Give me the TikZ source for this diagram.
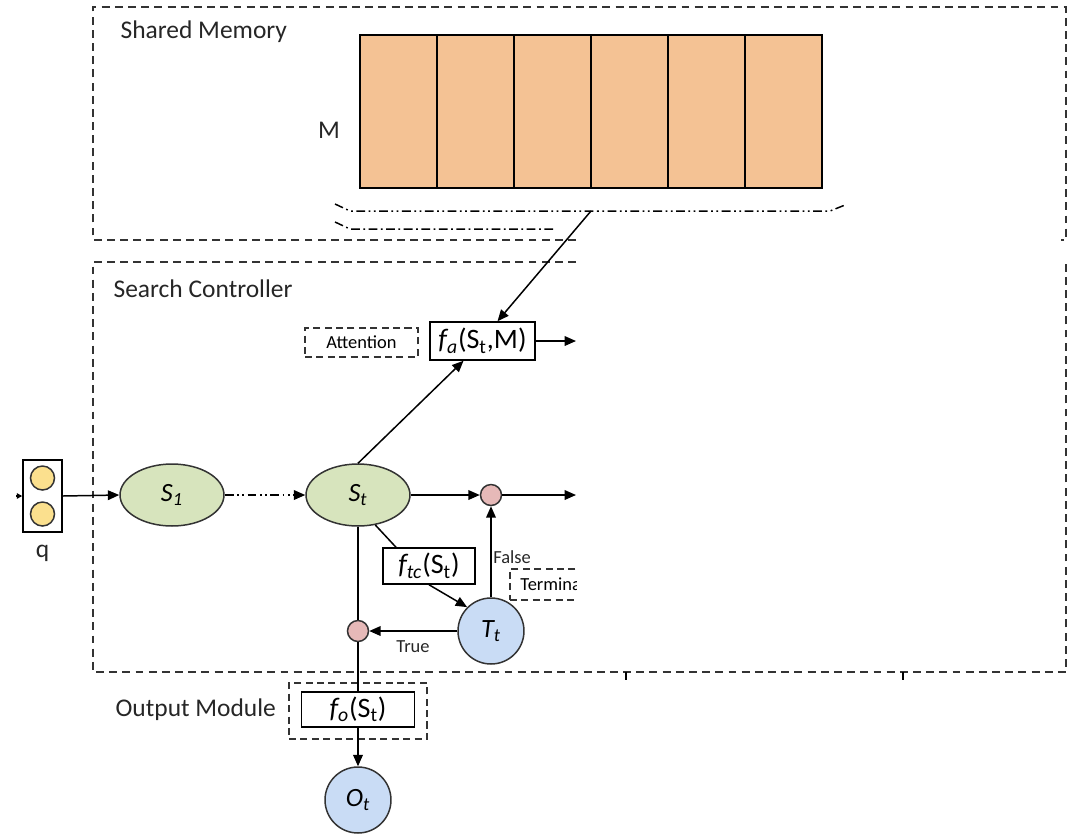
\documentclass[tikz,border=0pt]{standalone}
\usepackage{fontspec}
\setmainfont{Carlito}
\usetikzlibrary{positioning,arrows.meta,shapes.geometric,calc}
\definecolor{memorange}{HTML}{F4C294}
\definecolor{stategreen}{HTML}{D7E4BD}
\definecolor{gatepink}{HTML}{E6B9B8}
\definecolor{outblue}{HTML}{C9DCF5}
\definecolor{qyellow}{HTML}{FBE08E}
\newcommand{\sub}[1]{\textsubscript{#1}}

\begin{document}
\begin{tikzpicture}[
  x=0.02cm, y=-0.02cm,
  line width=0.85pt,
  >={Triangle[length=6.5pt,width=5.5pt]},
  region/.style={draw=black!80, line width=1.1pt, dash pattern=on 4.5pt off 3pt},
  memcell/.style={rectangle, draw=black, fill=memorange, line width=0.8pt, outer sep=0pt, minimum width=1.54cm, minimum height=3.06cm},
  fbox/.style={rectangle, draw=black, fill=white, minimum height=0.76cm, inner sep=1pt, font=\fontsize{16}{19}\selectfont},
  tagbox/.style={rectangle, draw=black!80, line width=1pt, dash pattern=on 4pt off 2.5pt, minimum height=0.58cm, font=\fontsize{10.5}{12}\selectfont},
  state/.style={ellipse, draw=black!80, fill=stategreen, minimum width=2.08cm, minimum height=1.24cm, inner sep=0pt, font=\fontsize{15}{18}\selectfont},
  outcirc/.style={circle, draw=black!80, fill=outblue, minimum size=1.32cm, inner sep=0pt, font=\fontsize{15}{18}\selectfont},
  gate/.style={circle, draw=black!80, fill=gatepink, minimum size=0.42cm, inner sep=0pt},
  qdot/.style={circle, draw=black!80, fill=qyellow, minimum size=0.48cm, inner sep=0pt},
  qbox/.style={rectangle, draw=black, fill=white, minimum width=0.78cm, minimum height=1.44cm},
  label/.style={text=black!85, font=\fontsize{14.5}{17}\selectfont},
  small/.style={text=black!85, font=\fontsize{10.5}{12}\selectfont},
  dashdotdot/.style={dash pattern=on 5pt off 2pt on 1pt off 2pt on 1pt off 2pt},
  dashdotone/.style={dash pattern=on 5pt off 2pt on 1pt off 2pt}
]
\useasboundingbox (0,0) rectangle (1083,833);

% Shared Memory (Top)
\draw[region] (576,240) -- (93,240) -- (93,7) -- (1066,7) -- (1066,240) -- (1061,240);
\node[label, anchor=west] (sm_title) at (114,32) {Shared Memory};
\node[label] (m_label) at (329,130) {M};
\node[memcell] (cell1) at (398.5,111.5) {};
\node[memcell, right=0pt of cell1] (cell2) {};
\node[memcell, right=0pt of cell2] (cell3) {};
\node[memcell, right=0pt of cell3] (cell4) {};
\node[memcell, right=0pt of cell4] (cell5) {};
\node[memcell, right=0pt of cell5] (cell6) {};

% Lesekopf (gestrichelte Klammern)
\draw[dashdotdot] (335,204) -- (350,211) -- (830,211) -- (845,205);
\draw[dashdotone] (335,222) -- (350,229) -- (556,229);
\coordinate (memtap) at (591,211);

% Search Controller
\draw[region] (576,262) -- (93,262) -- (93,672) -- (1066,672) -- (1066,262);
\draw[line width=0.6pt] (626,672) -- (626,680);
\draw[line width=0.6pt] (903,672) -- (903,680);
\node[label, anchor=west] (sc_title) at (107,289) {Search Controller};

\node[tagbox, minimum width=2.26cm] (attn) at (361.5,342.5) {Attention};
\node[fbox, minimum width=2.1cm] (fa) at (482.5,341) {\textit{f\sub{a}}(S\sub{t},M)};
\coordinate (out_fa) at (576,341);

\node[qbox] (q) at (42.5,496) {};
\node[qdot] (q1) at (42.5,478) {};
\node[qdot] (q2) at (42.5,514) {};
\node[label] (q_label) at (42.5,553) {q};

\node[state] (s1) at (172,495) {\textit{S\sub{1}}};
\node[state] (st) at (358,495) {\textit{S\sub{t}}};
\node[gate] (g_top) at (491,495) {};
\coordinate (out_top) at (576,495);

\node[fbox, minimum width=1.84cm, minimum height=0.72cm] (ftc) at (429,566) {\textit{f\sub{tc}}(S\sub{t})};
\node[outcirc] (tt) at (491,631) {\textit{T\sub{t}}};
\node[gate] (g_low) at (358,631) {};
\node[small] (false_lbl) at (512,557) {False};
\node[small] (true_lbl) at (413,647) {True};

\begin{scope}
  \clip (500,560) rectangle (576,610);
  \node[tagbox, anchor=west, inner xsep=6pt, minimum height=0.62cm] (term) at (509,584.5) {Terminal};
\end{scope}

% Output Module
\node[tagbox, minimum width=2.76cm, minimum height=1.12cm] (om) at (358,711) {};
\node[fbox, minimum width=2.26cm, minimum height=0.7cm] (fo) at (358,709.5) {\textit{f\sub{o}}(S\sub{t})};
\node[label, anchor=west] (om_title) at (109,710) {Output Module};
\node[outcirc] (ot) at (358,800) {\textit{O\sub{t}}};

% Verbindungen
\draw[-{Triangle[length=3pt,width=3pt]}] ([xshift=-0.12cm]q.west) -- (q.west);
\draw[->] (q.east) -- (s1.west);
\draw[->, dashdotdot] (s1.east) -- (st.west);
\draw[->] (st.east) -- (g_top.west);
\draw[->] (g_top.east) -- (out_top);
\draw[->] (st.north) -- ([xshift=-0.38cm]fa.south);
\draw[->] (memtap) -- ([xshift=0.3cm]fa.north);
\draw[->] (fa.east) -- (out_fa);
\draw (st.-60) -- ([xshift=-0.66cm]ftc.north);
\draw[->] (ftc.south) -- (tt.135);
\draw[->] (tt.north) -- (g_top.south);
\draw[->] (tt.west) -- (g_low.east);
\draw (st.south) -- (g_low.north);
\draw (g_low.south) -- (fo.north);
\draw[->] (fo.south) -- (ot.north);

\end{tikzpicture}
\end{document}
